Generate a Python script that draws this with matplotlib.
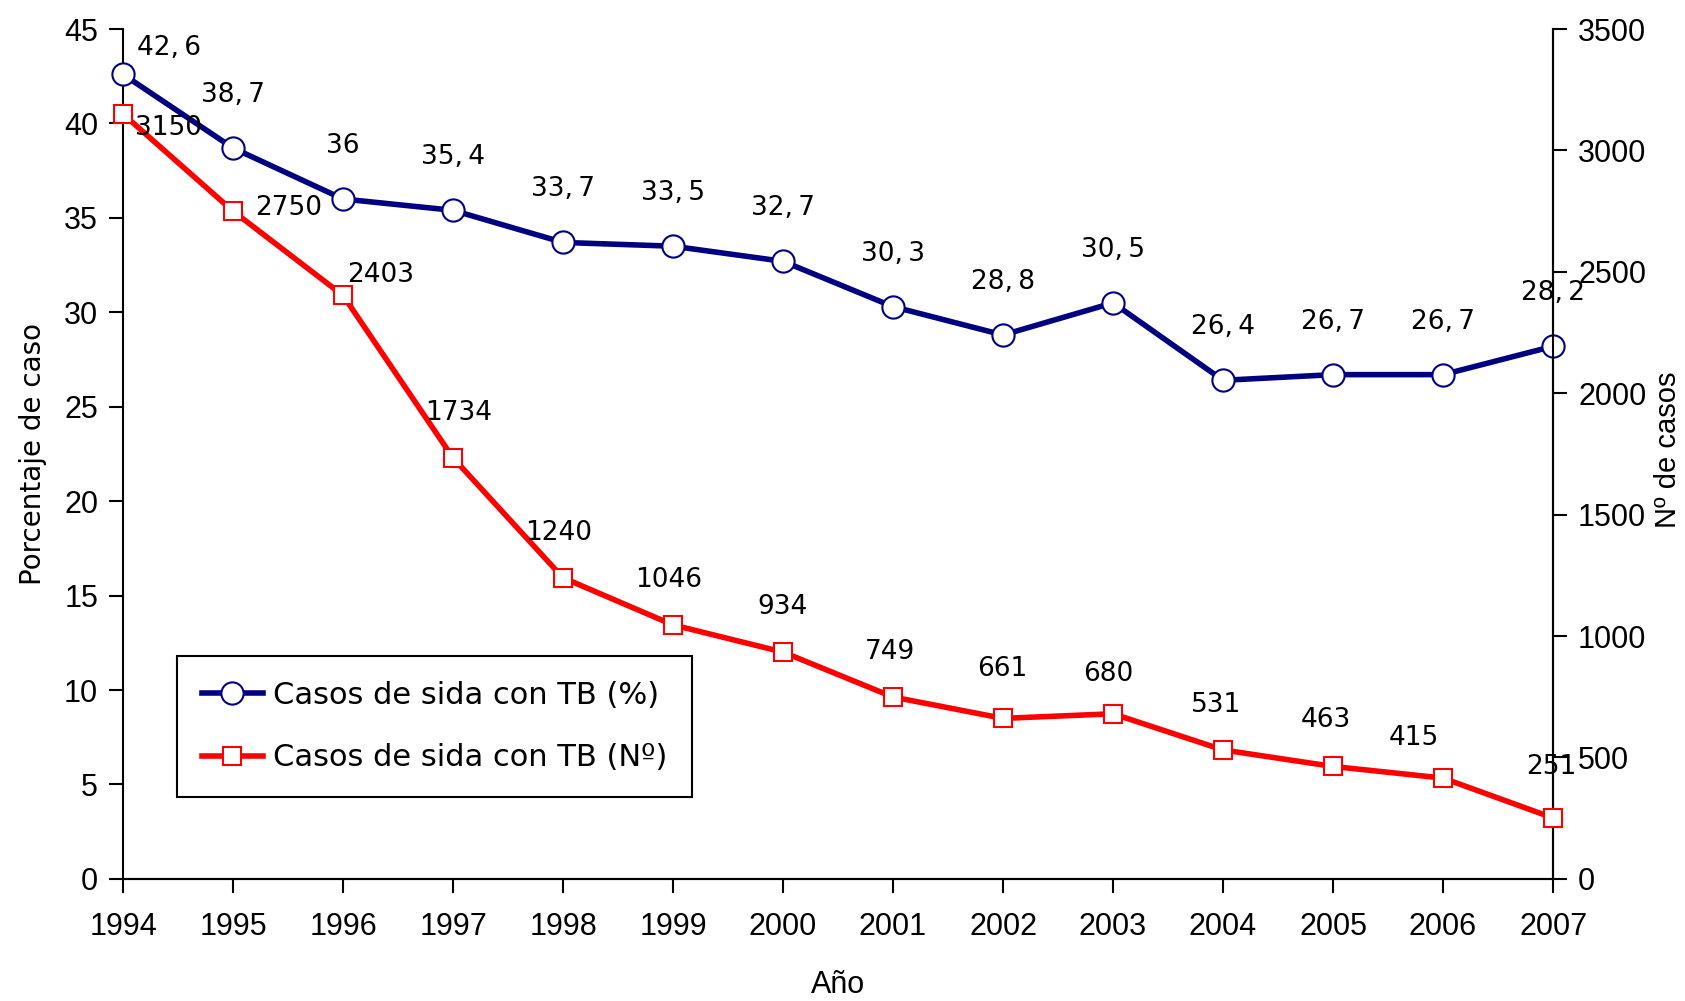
import matplotlib.pyplot as plt

years = [1994, 1995, 1996, 1997, 1998, 1999, 2000, 2001, 2002, 2003, 2004, 2005, 2006, 2007]
pct = [42.6, 38.7, 36, 35.4, 33.7, 33.5, 32.7, 30.3, 28.8, 30.5, 26.4, 26.7, 26.7, 28.2]
num = [3150, 2750, 2403, 1734, 1240, 1046, 934, 749, 661, 680, 531, 463, 415, 251]

# label offsets in pixels (dx, dy)
pct_off = [(46, 26)] + [(0, 53)] * 13
num_off = [(45, -14), (56, 3), (38, 20), (6, 45), (-4, 45), (-4, 45), (-1, 45), (-3, 45),
           (-1, 49), (-5, 40), (-7, 45), (-7, 46), (-29, 40), (-2, 51)]

tick_font = 'Liberation Sans'
lab_font = 'DejaVu Sans'

fig = plt.figure(figsize=(16.85, 10.01), dpi=100)
ax = fig.add_axes([0.073, 0.122, 0.8487, 0.849])
ax2 = ax.twinx()

navy = '#000080'
red = '#ff0000'

l1, = ax.plot(years, pct, color=navy, lw=4, marker='o', ms=16, mfc='white',
              mec=navy, mew=1.5, clip_on=False, zorder=3)
l2, = ax2.plot(years, num, color=red, lw=4, marker='s', ms=13, mfc='white',
               mec=red, mew=1.5, clip_on=False, zorder=3)

for x, v, o in zip(years, pct, pct_off):
    ax.annotate(f'{v:g}'.replace('.', ',\u2009'), (x, v), xytext=o, textcoords='offset pixels',
                ha='center', va='center', fontsize=19, family=lab_font)
for x, v, o in zip(years, num, num_off):
    ax2.annotate(str(v), (x, v), xytext=o, textcoords='offset pixels',
                 ha='center', va='center', fontsize=19, family=lab_font)

ax.set_xlim(1994, 2007)
ax.set_ylim(0, 45)
ax2.set_ylim(0, 3500)
ax.set_xticks(years)
ax.set_yticks(range(0, 46, 5))
ax2.set_yticks(range(0, 3501, 500))

for a in (ax, ax2):
    a.spines['top'].set_visible(False)
    for s in a.spines.values():
        s.set_linewidth(1.5)
    a.tick_params(width=1.5, length=10, labelsize=22, direction='out', pad=8)
    for lab in a.get_xticklabels() + a.get_yticklabels():
        lab.set_family(tick_font)
ax.tick_params(axis='x', pad=14)
ax2.spines['left'].set_visible(False)

ax.set_xlabel('Año', fontsize=22, family=tick_font, labelpad=20)
ax.set_ylabel('Porcentaje de caso', fontsize=20, family=lab_font, labelpad=12)
ax2.set_ylabel('Nº de casos', fontsize=21, family=tick_font)
ax2.yaxis.set_label_coords(1.0805, 0.505)
ax2.yaxis.label.set_va('center')
ax2.yaxis.label.set_ha('center')

leg = ax2.legend([l1, l2], ['Casos de sida con TB (%)', 'Casos de sida con TB (Nº)'],
                 loc='lower left', bbox_to_anchor=(0.0378, 0.0965), borderaxespad=0,
                 fancybox=False, edgecolor='black', framealpha=1,
                 prop={'family': lab_font, 'size': 22}, handlelength=2.0,
                 labelspacing=1.1, borderpad=0.8, handletextpad=0.35)
leg.get_frame().set_linewidth(1.5)

fig.savefig('out.png', dpi=100)
